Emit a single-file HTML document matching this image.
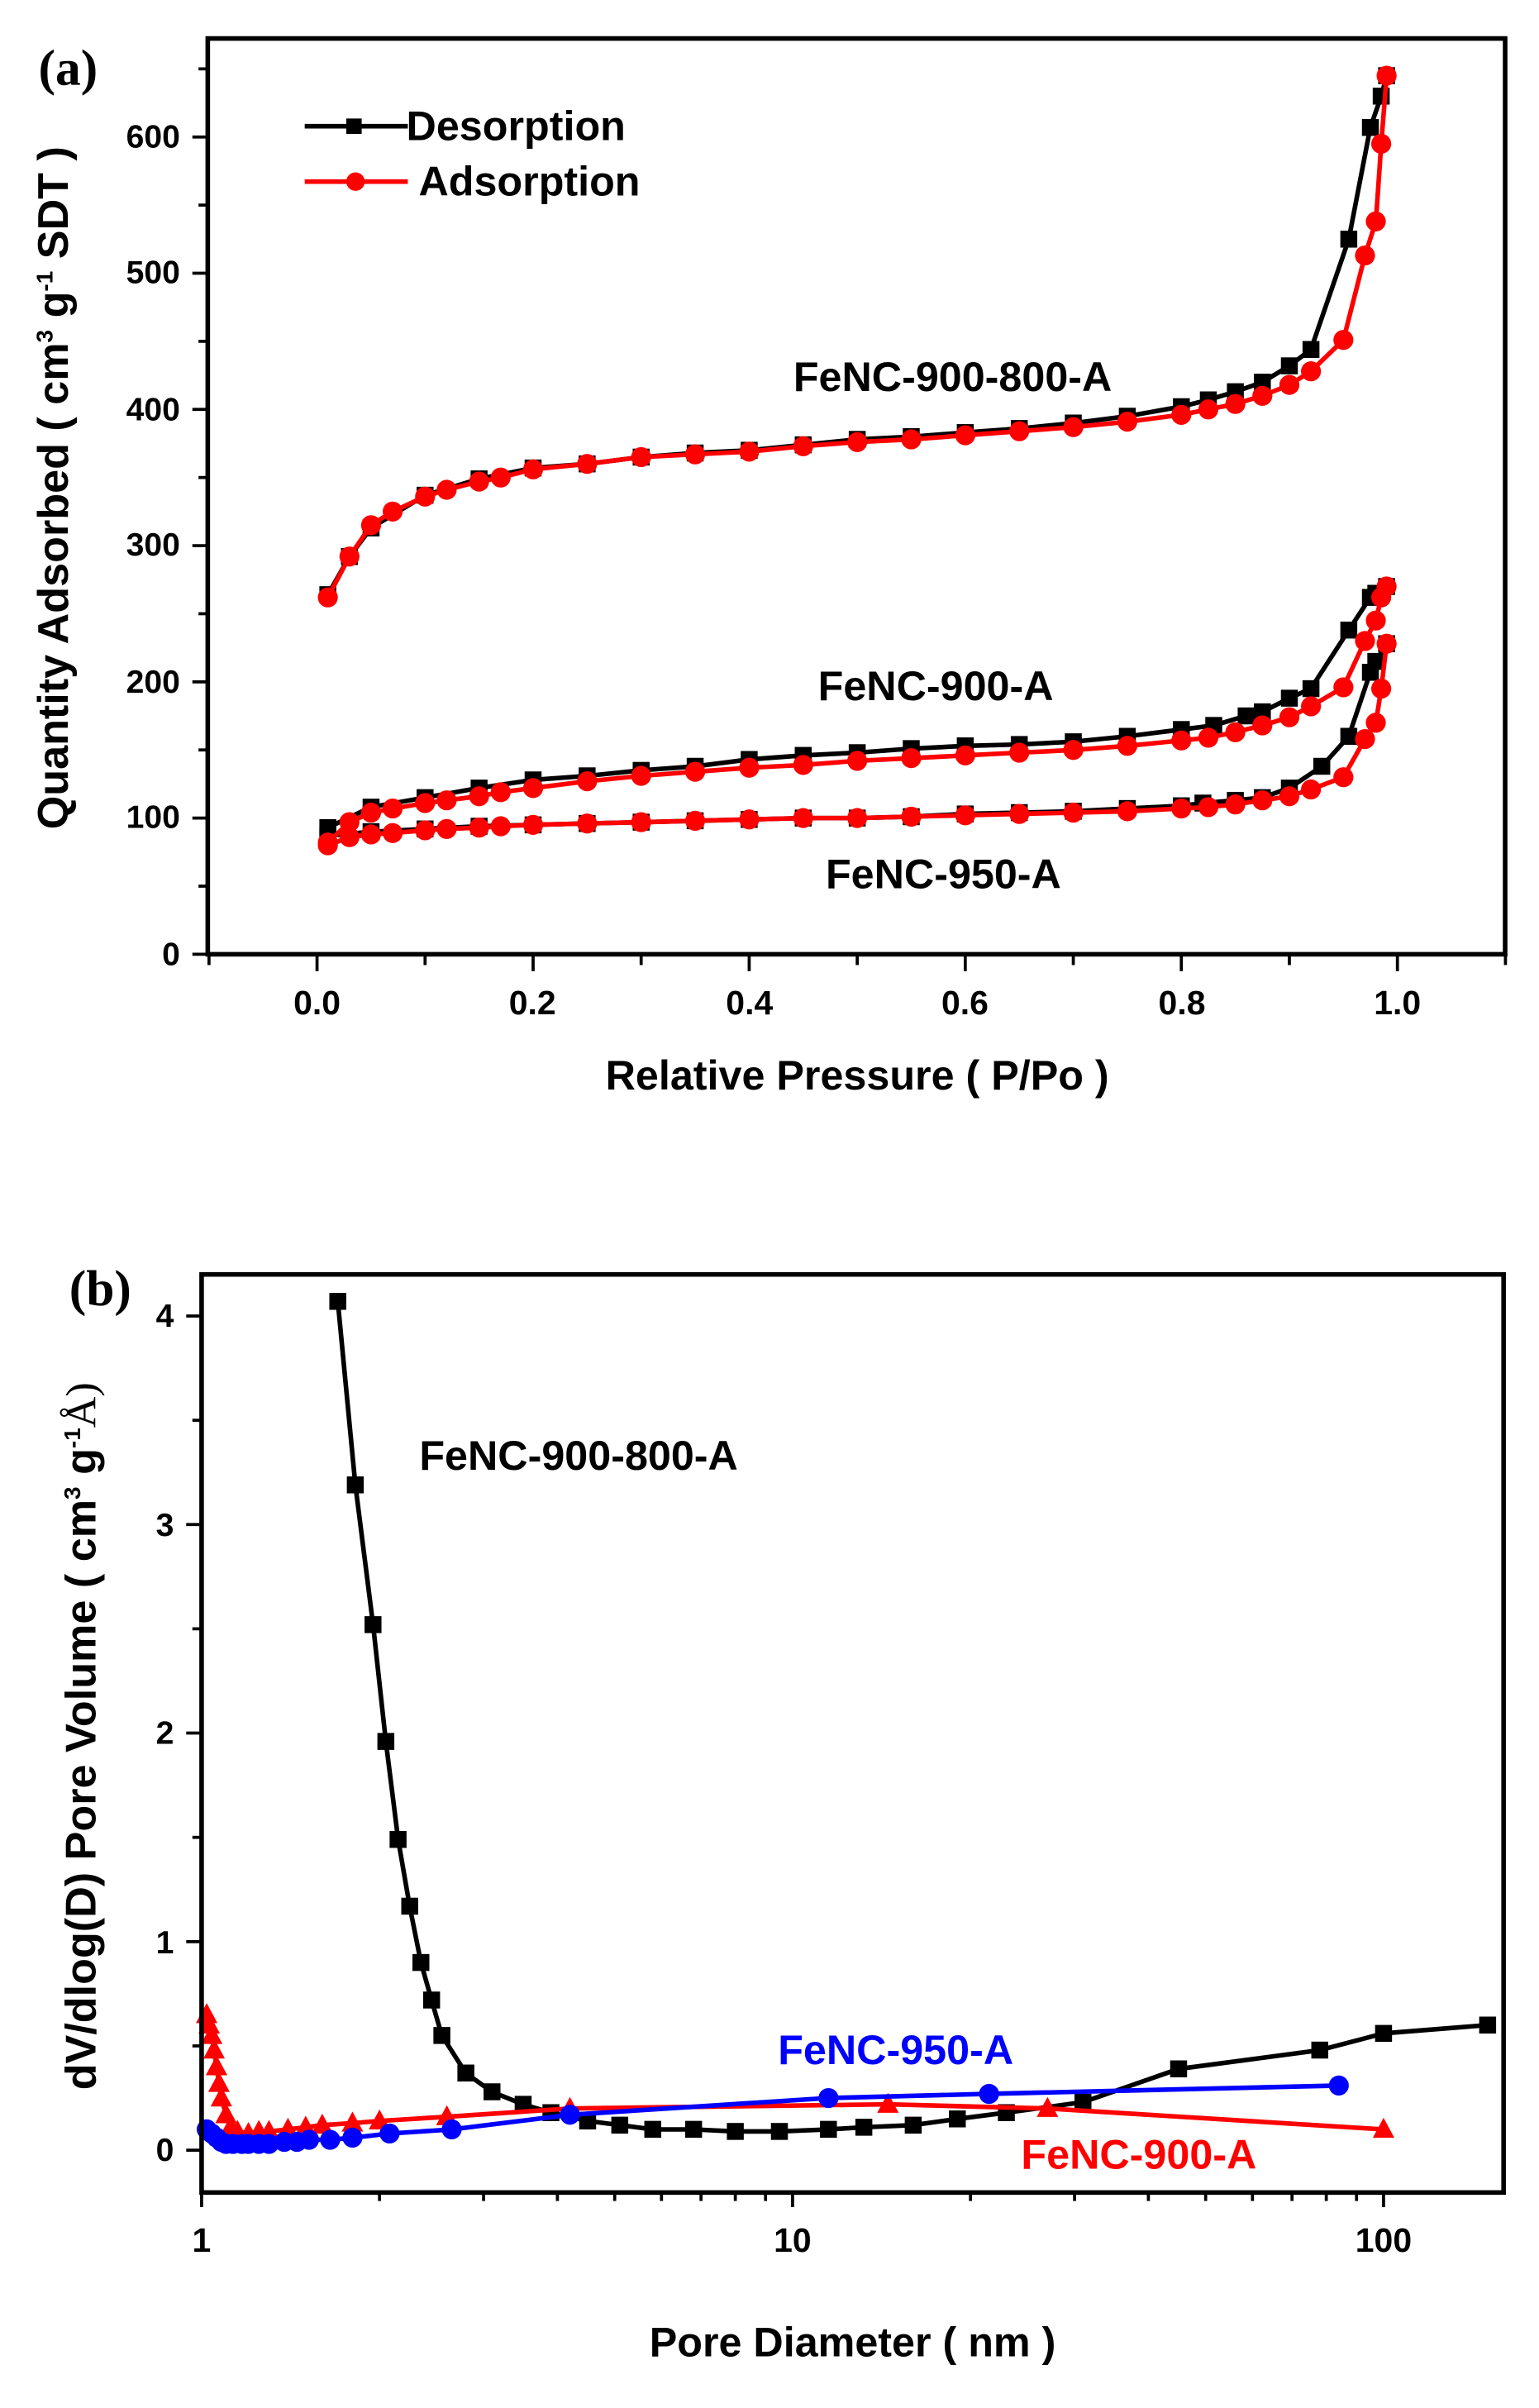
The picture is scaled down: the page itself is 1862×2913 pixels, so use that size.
<!DOCTYPE html>
<html><head><meta charset="utf-8"><style>
html,body{margin:0;padding:0;background:#fff}
svg{display:block}
text{font-family:"Liberation Sans",Arial,sans-serif;font-weight:bold}
</style></head><body>
<svg id="s" width="1862" height="2913" viewBox="0 0 1000 1564.5" preserveAspectRatio="none" xmlns="http://www.w3.org/2000/svg">
<rect x="0" y="0" width="1000" height="1564.5" fill="#fff"/>
<g id="g"></g>
<rect x="135" y="25" width="843" height="595" fill="none" stroke="#000" stroke-width="3"/>
<rect x="131" y="828" width="846" height="596.5" fill="none" stroke="#000" stroke-width="3"/>
<text x="25" y="55" style="font-family:'Liberation Serif',serif;font-size:33px">(a)</text>
<text x="45" y="848" style="font-family:'Liberation Serif',serif;font-size:33px">(b)</text>
<g font-size="21" text-anchor="end">
<text x="117" y="627">0</text><text x="117" y="538">100</text><text x="117" y="450">200</text>
<text x="117" y="361">300</text><text x="117" y="273">400</text><text x="117" y="184">500</text><text x="117" y="96">600</text>
<text x="113" y="1404">0</text><text x="113" y="1269">1</text><text x="113" y="1133">2</text><text x="113" y="998">3</text><text x="113" y="862">4</text>
</g>
<g font-size="22" text-anchor="middle">
<text x="206" y="659">0.0</text><text x="346" y="659">0.2</text><text x="487" y="659">0.4</text>
<text x="627" y="659">0.6</text><text x="768" y="659">0.8</text><text x="908" y="659">1.0</text>
<text x="131" y="1463">1</text><text x="515" y="1463">10</text><text x="899" y="1463">100</text>
</g>
<text x="557" y="708" font-size="27" text-anchor="middle">Relative Pressure ( P/Po )</text>
<text x="554" y="1531" font-size="27" text-anchor="middle">Pore Diameter ( nm )</text>
<text transform="translate(44,317) rotate(-90)" font-size="28" text-anchor="middle">Quantity Adsorbed ( cm<tspan dy="-10" font-size="15">3</tspan><tspan dy="10"> g</tspan><tspan dy="-10" font-size="15">-1</tspan><tspan dy="10"> SDT )</tspan></text>
<text transform="translate(62,1128) rotate(-90)" font-size="28" text-anchor="middle">dV/dlog(D) Pore Volume ( cm<tspan dy="-10" font-size="15">3</tspan><tspan dy="10"> g</tspan><tspan dy="-10" font-size="15">-1</tspan><tspan dy="10" style="font-family:'Liberation Serif',serif;font-weight:normal">Å)</tspan></text>
<line x1="198" y1="82" x2="265" y2="82" stroke="#000" stroke-width="3"/>
<rect x="225" y="77" width="10" height="10" fill="#000"/>
<text x="264" y="91" font-size="27">Desorption</text>
<line x1="198" y1="118" x2="265" y2="118" stroke="#f00" stroke-width="3"/>
<circle cx="231" cy="118" r="6" fill="#f00"/>
<text x="272" y="127" font-size="27">Adsorption</text>
<g font-size="27" text-anchor="middle">
<text x="619" y="254">FeNC-900-800-A</text>
<text x="608" y="455">FeNC-900-A</text>
<text x="613" y="577">FeNC-950-A</text>
<text x="376" y="955">FeNC-900-800-A</text>
<text x="582" y="1341" fill="#00f">FeNC-950-A</text>
<text x="740" y="1409" fill="#f00">FeNC-900-A</text>
</g>
</svg>
<script>
var g=document.getElementById('g'),NS='http://www.w3.org/2000/svg';
function el(n,a){var e=document.createElementNS(NS,n);for(var k in a)e.setAttribute(k,a[k]);g.appendChild(e);return e;}
function line(x1,y1,x2,y2,w){el('line',{x1:x1,y1:y1,x2:x2,y2:y2,stroke:'#000','stroke-width':w||2});}
for(var v=0;v<=650;v+=50){var y=620-0.885*v;line(135,y,v%100?129:125,y);}
for(var i=-1;i<=11;i++){var x=206+70.2*i;line(x,620,x,i%2?627:631);}
for(var v=0;v<=4;v+=0.5){var y=1397-135.5*v;line(131,y,v%1?125:121,y);}
for(var d=0;d<3;d++)for(var m=1;m<10;m++){var x=131+384*(d+Math.log10(m));if(x>979)break;line(x,1424.5,x,m==1?1434:1430);}
function ax(p){return 206+702*p} function ay(v){return 620-0.885*v}
function bx(D){return 131+384*Math.log10(D)} function by(v){return 1397-135.5*v}
function series(pts,fx,fy,col,mk){
 var d='';pts.forEach(function(p,i){d+=(i?'L':'M')+fx(p[0]).toFixed(1)+' '+fy(p[1]).toFixed(1);});
 el('path',{d:d,fill:'none',stroke:col,'stroke-width':3,'stroke-linejoin':'round'});
 pts.forEach(function(p){var x=fx(p[0]),y=fy(p[1]);
  if(mk=='s')el('rect',{x:x-5.5,y:y-5.5,width:11,height:11,fill:col});
  else if(mk=='c')el('circle',{cx:x,cy:y,r:6.5,fill:col});
  else el('path',{d:'M'+x+' '+(y-7.5)+'L'+(x+7)+' '+(y+5.5)+'L'+(x-7)+' '+(y+5.5)+'Z',fill:col});});
}
function P(a){var r=[];for(var i=0;i<a.length;i+=2)r.push([a[i],a[i+1]]);return r;}
var pp=[0.01,0.03,0.05,0.07,0.1,0.12,0.15,0.17,0.2,0.25,0.3,0.35,0.4,0.45,0.5,0.55,0.6,0.65,0.7,0.75,0.8,0.825,0.85,0.875,0.9,0.92,0.95,0.97,0.98,0.985,0.99];
function Z(v){return pp.map(function(p,i){return [p,v[i]];});}
var a1=Z([262,292,315,325,336,341,347,350,356,360,365,367,369,373,376,378,381,384,387,391,396,400,404,410,418,428,451,513,538,595,645]);
var d1=P([0.99,645,0.985,630,0.975,607,0.955,525,0.92,444,0.9,432,0.875,420,0.85,413,0.825,407,0.8,402,0.75,395,0.7,390,0.65,386,0.6,383,0.55,380,0.5,378,0.45,374,0.4,370,0.35,368,0.3,365,0.25,360,0.2,357,0.15,349,0.1,337,0.05,313,0.03,292,0.01,264]);
var a2=Z([82,97,104,107,111,113,116,119,122,127,131,134,137,139,142,144,146,148,150,153,157,159,163,168,174,182,196,230,245,262,270]);
var d2=P([0.99,270,0.98,265,0.975,262,0.955,238,0.92,195,0.9,188,0.875,178,0.86,175,0.83,168,0.8,165,0.75,160,0.7,156,0.65,154,0.6,153,0.55,151,0.5,148,0.45,146,0.4,143,0.35,138,0.3,135,0.25,131,0.2,128,0.15,122,0.1,115,0.05,108,0.01,93]);
var a3=Z([80,86,88,89,91,92,93,94,95,96,97,98,99,100,100,101,102,103,104,105,107,108,110,113,116,121,130,158,170,195,228]);
var d3=P([0.99,228,0.98,215,0.975,207,0.955,160,0.93,138,0.9,122,0.875,115,0.85,113,0.82,111,0.8,109,0.75,107,0.7,105,0.65,104,0.6,103,0.55,101,0.5,100,0.45,100,0.4,99,0.35,98,0.3,97,0.25,96,0.2,95,0.15,94,0.1,92,0.05,90,0.01,87]);
series(d3,ax,ay,'#000','s');series(a3,ax,ay,'#f00','c');
series(d2,ax,ay,'#000','s');series(a2,ax,ay,'#f00','c');
series(d1,ax,ay,'#000','s');series(a1,ax,ay,'#f00','c');
var bk=P([1.7,4.07,1.82,3.19,1.95,2.52,2.05,1.96,2.15,1.49,2.25,1.17,2.35,0.9,2.45,0.72,2.55,0.55,2.8,0.37,3.1,0.28,3.5,0.22,3.9,0.18,4.5,0.14,5.1,0.12,5.8,0.1,6.8,0.1,8,0.09,9.5,0.09,11.5,0.1,13.2,0.11,16,0.12,19,0.15,23,0.18,31,0.23,45,0.39,78,0.48,100,0.56,150,0.6]);
var rd=P([1.02,0.65,1.03,0.6,1.04,0.55,1.05,0.48,1.06,0.4,1.07,0.32,1.08,0.25,1.1,0.17,1.12,0.11,1.15,0.09,1.2,0.08,1.25,0.09,1.3,0.09,1.4,0.1,1.5,0.11,1.6,0.12,1.8,0.13,2.0,0.14,2.6,0.16,4.2,0.2,14.5,0.22,27,0.2,100,0.1]);
var bl=P([1.02,0.1,1.04,0.08,1.06,0.06,1.08,0.04,1.1,0.03,1.13,0.03,1.17,0.03,1.2,0.03,1.25,0.03,1.3,0.03,1.38,0.04,1.45,0.04,1.52,0.05,1.65,0.05,1.8,0.06,2.08,0.08,2.65,0.1,4.2,0.17,11.5,0.25,21.5,0.27,84,0.31]);
series(bk,bx,by,'#000','s');series(rd,bx,by,'#f00','t');series(bl,bx,by,'#00f','c');
</script>
</body></html>
